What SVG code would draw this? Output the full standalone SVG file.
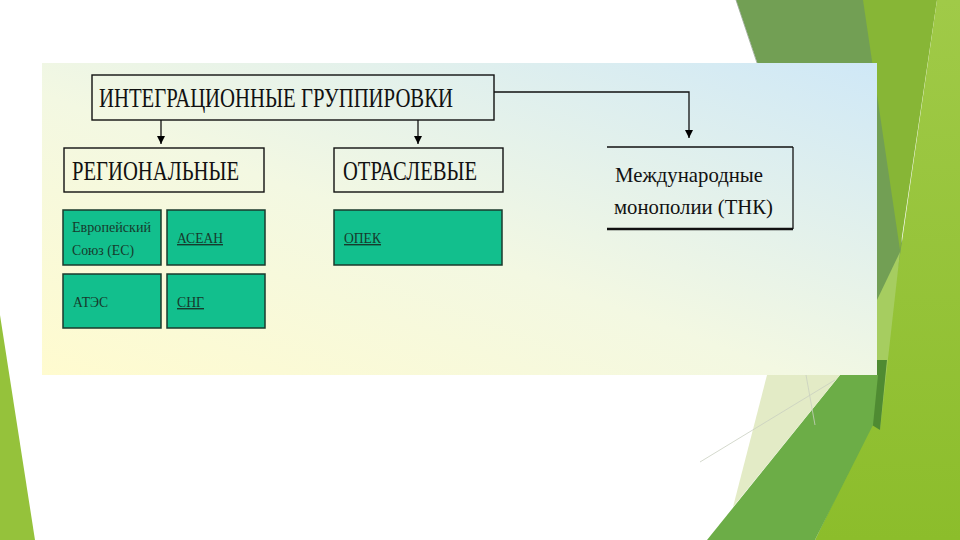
<svg xmlns="http://www.w3.org/2000/svg" width="960" height="540" viewBox="0 0 960 540">
<defs>
<linearGradient id="panelGrad" x1="0" y1="1" x2="1" y2="0">
<stop offset="0" stop-color="#fffbcf"/>
<stop offset="0.45" stop-color="#f3f8e2"/>
<stop offset="1" stop-color="#cfe8f7"/>
</linearGradient>
<linearGradient id="rightGrad" x1="0" y1="0" x2="0" y2="1">
<stop offset="0" stop-color="#a0ca48"/>
<stop offset="1" stop-color="#8cbd2b"/>
</linearGradient>
<marker id="arrow" viewBox="0 0 10 10" refX="10" refY="5" markerWidth="8" markerHeight="9" markerUnits="userSpaceOnUse" orient="auto">
<path d="M0,0 L10,5 L0,10 z" fill="#000"/>
</marker>
<style>
.frame{fill:none;stroke:#111;stroke-width:1.4}
.gbox{fill:#12bf8d;stroke:#1b3a2c;stroke-width:1.5}
.big{font-family:"Liberation Serif","DejaVu Serif",serif;font-size:27px;fill:#111}
.mid{font-family:"Liberation Serif","DejaVu Serif",serif;font-size:22px;fill:#111}
.small{font-family:"Liberation Serif","DejaVu Serif",serif;font-size:14px;fill:#173a2c}
.link{text-decoration:underline}
.conn{fill:none;stroke:#111;stroke-width:1.3}
</style>
</defs>

<!-- background -->
<rect x="0" y="0" width="960" height="540" fill="#ffffff"/>
<polygon points="0,315 35,540 0,540" fill="#95c23b"/>
<polygon points="736,0 866,0 903,250 880,400 840,375 790,160" fill="#729f54"/>
<polygon points="863,0 937,0 900,250" fill="#87b636"/>
<polygon points="937,0 960,0 960,540 815,540 873,420 900,255" fill="url(#rightGrad)"/>
<polygon points="900,252 880,430 872,420 877,300" fill="#a6cd60"/>
<polygon points="877,360 887,360 880,430 872,425" fill="#4f8b32"/>
<polygon points="840,375 878,375 873,425 815,540 707,540" fill="#6cad47"/>
<polygon points="767,375 840,375 733,507" fill="#e3ebc6"/>
<polyline points="700,462 835,380" fill="none" stroke="#c9cfc0" stroke-width="0.8"/>
<polyline points="806,375 815,425" fill="none" stroke="#c9cfc0" stroke-width="0.8"/>
<polyline points="736,0 757,63" fill="none" stroke="#9aa898" stroke-width="0.8"/>

<!-- panel -->
<rect x="42" y="63" width="835" height="312" fill="url(#panelGrad)"/>

<!-- connectors -->
<g id="connectors">
<line class="conn" x1="161" y1="120" x2="161" y2="144" marker-end="url(#arrow)"/>
<line class="conn" x1="418" y1="120" x2="418" y2="144" marker-end="url(#arrow)"/>
<path class="conn" d="M494,92 H689 V138" marker-end="url(#arrow)"/>
</g>

<g id="integration">
<rect class="frame" x="92" y="75" width="402" height="45"/>
<text class="big" x="99" y="107" textLength="354" lengthAdjust="spacingAndGlyphs">ИНТЕГРАЦИОННЫЕ ГРУППИРОВКИ</text>
</g>

<g id="regional">
<rect class="frame" x="64" y="148" width="200" height="44"/>
<text class="big" x="72" y="180" textLength="167" lengthAdjust="spacingAndGlyphs">РЕГИОНАЛЬНЫЕ</text>
</g>

<g id="sectoral">
<rect class="frame" x="334" y="148" width="169" height="44"/>
<text class="big" x="343" y="180" textLength="134" lengthAdjust="spacingAndGlyphs">ОТРАСЛЕВЫЕ</text>
</g>

<g id="international">
<line x1="607" y1="147" x2="793" y2="147" stroke="#111" stroke-width="1.3"/>
<line x1="793" y1="147" x2="793" y2="229" stroke="#111" stroke-width="1.3"/>
<line x1="607" y1="229" x2="793" y2="229" stroke="#111" stroke-width="2.4"/>
<text class="mid" x="615" y="182" textLength="148" lengthAdjust="spacingAndGlyphs">Международные</text>
<text class="mid" x="614" y="214" textLength="159" lengthAdjust="spacingAndGlyphs">монополии (ТНК)</text>
</g>

<g id="eu">
<rect class="gbox" x="63" y="210" width="98" height="55"/>
<text class="small" x="72" y="232" textLength="79" lengthAdjust="spacingAndGlyphs">Европейский</text>
<text class="small" x="72" y="255" textLength="62" lengthAdjust="spacingAndGlyphs">Союз (ЕС)</text>
</g>

<g id="asean">
<rect class="gbox" x="167" y="210" width="98" height="55"/>
<text class="small link" x="177" y="243" textLength="46" lengthAdjust="spacingAndGlyphs">АСЕАН</text>
</g>

<g id="apec">
<rect class="gbox" x="63" y="274" width="98" height="54"/>
<text class="small" x="73" y="307" textLength="35" lengthAdjust="spacingAndGlyphs">АТЭС</text>
</g>

<g id="cis">
<rect class="gbox" x="167" y="274" width="98" height="54"/>
<text class="small link" x="177" y="307" textLength="27" lengthAdjust="spacingAndGlyphs">СНГ</text>
</g>

<g id="opec">
<rect class="gbox" x="334" y="210" width="168" height="55"/>
<text class="small link" x="344" y="243" textLength="37" lengthAdjust="spacingAndGlyphs">ОПЕК</text>
</g>
</svg>
